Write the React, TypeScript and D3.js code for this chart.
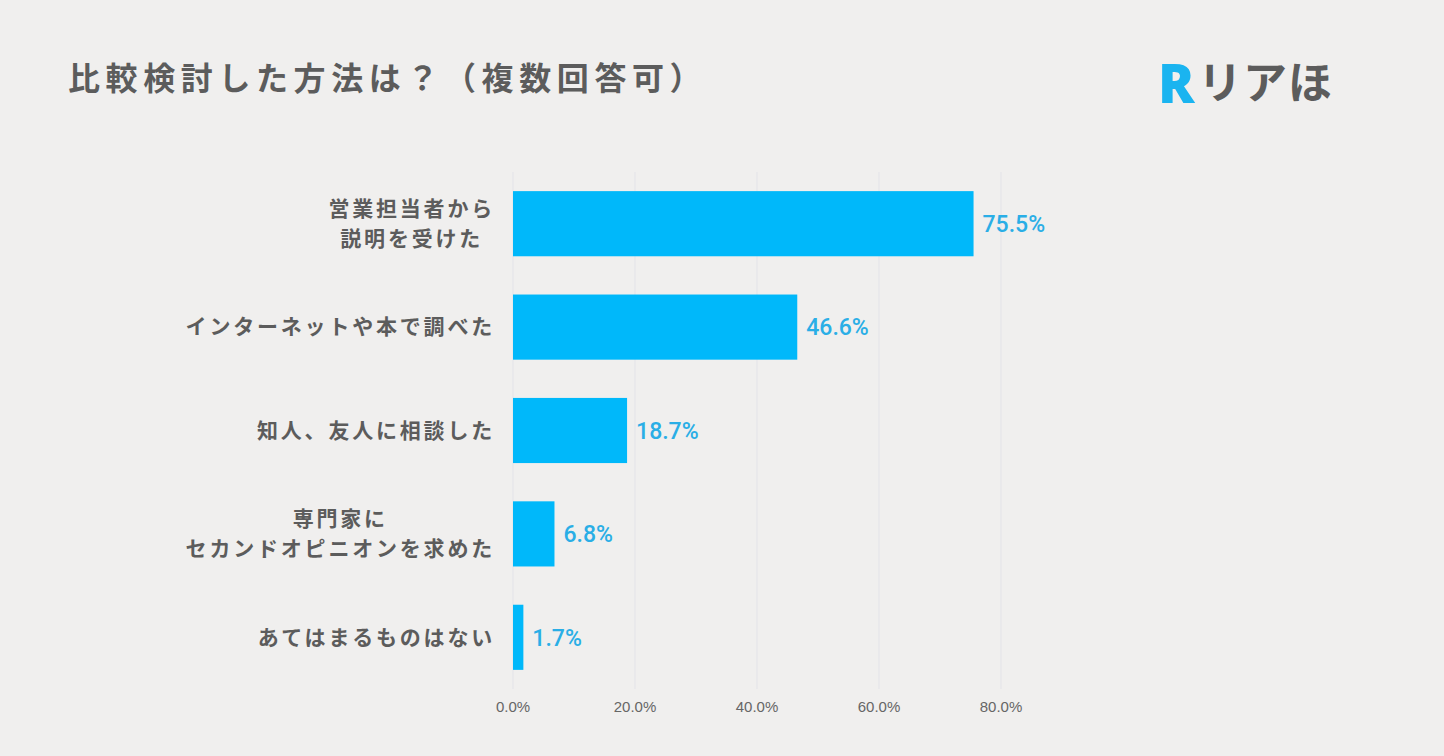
import { useEffect, useRef } from "react";
import * as d3 from "d3";

const categories = [
  ["営業担当者から", "説明を受けた"],
  ["インターネットや本で調べた"],
  ["知人、友人に相談した"],
  ["専門家に", "セカンドオピニオンを求めた"],
  ["あてはまるものはない"],
];
const values = [75.5, 46.6, 18.7, 6.8, 1.7];
const ticks = [0, 20, 40, 60, 80];

const W = 1444;
const H = 756;
const FONT = "'Noto Sans CJK JP', 'Noto Sans', sans-serif";

export default function App() {
  const ref = useRef<SVGSVGElement>(null);

  useEffect(() => {
    if (!ref.current) return;
    const svg = d3.select(ref.current);
    svg.selectAll("*").remove();

    svg.append("rect").attr("width", W).attr("height", H).attr("fill", "#f0efee");

    const x = d3.scaleLinear().domain([0, 80]).range([513, 1001]);
    const y = d3
      .scaleBand<number>()
      .domain(values.map((_, i) => i))
      .range([172, 689])
      .paddingInner(0.37)
      .paddingOuter(0.185);

    // grid
    svg
      .append("g")
      .selectAll("line")
      .data(ticks)
      .join("line")
      .attr("x1", (d) => x(d))
      .attr("x2", (d) => x(d))
      .attr("y1", 172)
      .attr("y2", 689)
      .attr("stroke", "#e3e3e8")
      .attr("stroke-width", 1);

    // bars
    svg
      .append("g")
      .selectAll("rect")
      .data(values)
      .join("rect")
      .attr("x", x(0))
      .attr("y", (_, i) => y(i)!)
      .attr("width", (d) => x(d) - x(0))
      .attr("height", y.bandwidth())
      .attr("fill", "#00b8fa");

    // value labels
    svg
      .append("g")
      .selectAll("text")
      .data(values)
      .join("text")
      .attr("x", (d) => x(d) + 9)
      .attr("y", (_, i) => y(i)! + y.bandwidth() / 2)
      .attr("dy", "0.36em")
      .attr("font-family", "Roboto, 'Noto Sans', sans-serif")
      .attr("font-weight", 500)
      .attr("font-size", 23)
      .attr("fill", "#2aaee6")
      .text((d) => `${d.toFixed(1)}%`);

    // category labels
    const cat = svg.append("g");
    categories.forEach((lines, i) => {
      const cy = y(i)! + y.bandwidth() / 2;
      const lh = 30;
      const t = cat
        .append("text")
        .attr("text-anchor", "middle")
        .attr("font-family", FONT)
        .attr("font-weight", 700)
        .attr("font-size", 21)
        .attr("letter-spacing", 2.8)
        .attr("fill", "#5c5c5c");
      const widths: number[] = [];
      lines.forEach((l, j) => {
        const ts = t
          .append("tspan")
          .attr("y", cy + (j - (lines.length - 1) / 2) * lh)
          .attr("dy", "0.35em")
          .text(l);
        widths.push((ts.node() as SVGTextContentElement).getComputedTextLength());
      });
      const maxW = Math.max(...widths);
      t.selectAll("tspan").attr("x", 495 - maxW / 2);
    });

    // x tick labels
    svg
      .append("g")
      .selectAll("text")
      .data(ticks)
      .join("text")
      .attr("x", (d) => x(d))
      .attr("y", 707)
      .attr("dy", "0.35em")
      .attr("text-anchor", "middle")
      .attr("font-family", "'Liberation Sans', Arial, sans-serif")
      .attr("font-size", 15)
      .attr("fill", "#666")
      .text((d) => `${d.toFixed(1)}%`);

    // title
    svg
      .append("text")
      .attr("x", 68)
      .attr("y", 90)
      .attr("font-family", FONT)
      .attr("font-weight", 700)
      .attr("font-size", 32)
      .attr("letter-spacing", 5.6)
      .attr("fill", "#5c5c5c")
      .text("比較検討した方法は？（複数回答可）");

    // logo
    const logo = svg.append("g").attr("transform", "translate(1158, 103)");
    logo
      .append("text")
      .attr("x", 0)
      .attr("y", 0)
      .attr("font-family", "'Noto Sans', sans-serif")
      .attr("font-weight", 900)
      .attr("font-size", 54)
      .attr("fill", "#1ab4f0")
      .text("R");
    logo
      .append("text")
      .attr("x", 40)
      .attr("y", -4)
      .attr("font-family", FONT)
      .attr("font-weight", 700)
      .attr("font-size", 44)
      .attr("letter-spacing", 1)
      .attr("fill", "#5c5c5c")
      .text("リアほ");
  }, []);

  return (
    <svg
      ref={ref}
      width={W}
      height={H}
      style={{ position: "absolute", left: 0, top: 0, display: "block" }}
    />
  );
}
